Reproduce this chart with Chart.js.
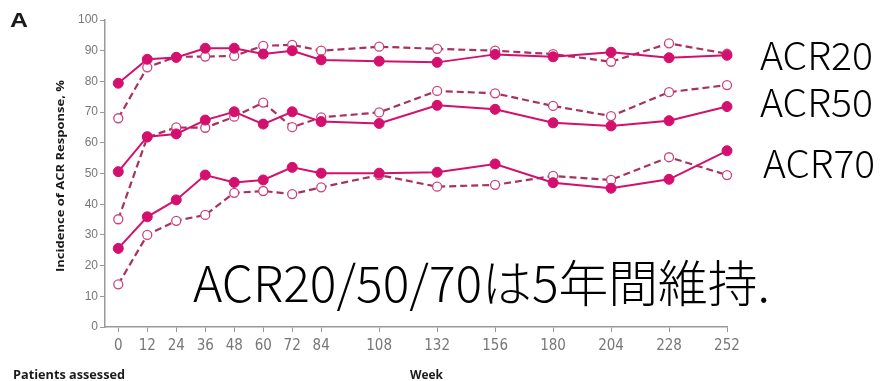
<!DOCTYPE html>
<html>
<head>
<meta charset="utf-8">
<script src="https://cdn.jsdelivr.net/npm/chart.js@4"></script>
<style>
  html, body { margin: 0; padding: 0; background: #fff; }
  #wrap { width: 881px; height: 381px; }
</style>
</head>
<body>
<div id="wrap"><canvas id="acrChart" width="881" height="381"></canvas></div>
<script>
// weeks on study and response rates (%)
const weeks = [0, 12, 24, 36, 48, 60, 72, 84, 108, 132, 156, 180, 204, 228, 252];
const acr20Solid = [79.4, 87.2, 87.8, 90.8, 90.8, 88.9, 90.0, 87.0, 86.6, 86.2, 88.8, 88.0, 89.5, 87.7, 88.5];
const acr20Open = [68.0, 84.6, 88.0, 88.1, 88.3, 91.6, 91.9, 90.0, 91.3, 90.6, 90.0, 88.9, 86.4, 92.4, 89.0];
const acr50Solid = [50.6, 62.0, 62.9, 67.4, 70.1, 66.1, 70.1, 66.9, 66.3, 72.2, 70.9, 66.5, 65.5, 67.2, 71.8];
const acr50Open = [35.1, 61.8, 65.0, 64.9, 68.5, 73.1, 65.1, 68.3, 69.9, 76.9, 76.1, 72.0, 68.7, 76.5, 78.8];
const acr70Solid = [25.6, 35.9, 41.4, 49.5, 47.1, 47.9, 52.0, 50.1, 50.1, 50.4, 53.1, 47.0, 45.2, 48.1, 57.4];
const acr70Open = [13.9, 30.0, 34.6, 36.5, 43.7, 44.3, 43.3, 45.5, 49.5, 45.7, 46.3, 49.2, 47.9, 55.3, 49.5];
const seriesLabels = ['ACR20', 'ACR50', 'ACR70'];
const yTicks = [0, 10, 20, 30, 40, 50, 60, 70, 80, 90, 100];

const solidColor = '#d4106e';
const dashColor = '#a8325f';

function toPoints(values) {
    return weeks.map((w, i) => ({ x: w, y: values[i] }));
}

function solidSet(label, values) {
    return {
        label: label,
        data: toPoints(values),
        borderColor: solidColor,
        borderWidth: 2,
        pointRadius: 5,
        pointBackgroundColor: solidColor,
        pointBorderColor: solidColor,
        pointBorderWidth: 1,
        clip: false
    };
}

function openSet(label, values) {
    return {
        label: label,
        data: toPoints(values),
        borderColor: dashColor,
        borderWidth: 2.2,
        borderDash: [7, 4],
        pointRadius: 4.5,
        pointBackgroundColor: '#fff',
        pointBorderColor: '#c9457f',
        pointBorderWidth: 1.3,
        clip: false
    };
}

// draws text squeezed or stretched horizontally to a given width
function fitText(ctx, text, x, y, width) {
    const w = ctx.measureText(text).width;
    ctx.save();
    ctx.translate(x, y);
    ctx.scale(width / w, 1);
    ctx.fillText(text, 0, 0);
    ctx.restore();
}

// labels, axis title and the note drawn on top of the plot
const overlayText = {
    id: 'overlayText',
    afterDraw(chart) {
        const ctx = chart.ctx;
        ctx.save();
        ctx.fillStyle = '#1a1a1a';
        ctx.textAlign = 'left';
        ctx.textBaseline = 'alphabetic';

        ctx.font = 'bold 20px "Liberation Sans", Arial, sans-serif';
        fitText(ctx, 'A', 10, 27, 18);

        ctx.font = 'bold 12px "Open Sans", sans-serif';
        fitText(ctx, 'Patients assessed', 13, 379, 112);
        fitText(ctx, 'Week', 410, 379, 33);

        ctx.save();
        ctx.translate(64, 272);
        ctx.rotate(-Math.PI / 2);
        ctx.font = 'bold 11px "Open Sans", sans-serif';
        fitText(ctx, 'Incidence of ACR Response, %', 0, 0, 192);
        ctx.restore();

        ctx.fillStyle = '#000';
        ctx.font = '300 38px "Noto Sans CJK JP", sans-serif';
        fitText(ctx, seriesLabels[0], 760, 70, 113);
        fitText(ctx, seriesLabels[1], 760, 117, 113);
        fitText(ctx, seriesLabels[2], 763, 178, 112);

        ctx.font = '300 50px "Noto Sans CJK JP", sans-serif';
        fitText(ctx, 'ACR20/50/70は5年間維持.', 193, 302, 577);
        ctx.restore();
    }
};

new Chart(document.getElementById('acrChart'), {
    type: 'line',
    data: {
        datasets: [
            solidSet('ACR20', acr20Solid),
            solidSet('ACR50', acr50Solid),
            solidSet('ACR70', acr70Solid),
            openSet('ACR20 open', acr20Open),
            openSet('ACR50 open', acr50Open),
            openSet('ACR70 open', acr70Open)
        ]
    },
    options: {
        responsive: false,
        animation: false,
        layout: { padding: { left: 0, right: 154, top: 20, bottom: 0 } },
        plugins: {
            legend: { display: false },
            tooltip: { enabled: false }
        },
        scales: {
            x: {
                type: 'linear',
                min: -5.5,
                max: 252,
                afterBuildTicks: scale => { scale.ticks = weeks.map(v => ({ value: v })); },
                afterFit: scale => { scale.height = 54; },
                grid: { drawOnChartArea: false, drawTicks: true, tickLength: 5, color: '#999' },
                border: { color: '#999', width: 1.5 },
                ticks: {
                    color: '#777',
                    padding: 5,
                    maxRotation: 0,
                    autoSkip: false,
                    font: { family: '"Liberation Sans Narrow", "DejaVu Sans Condensed", sans-serif', size: 15 }
                }
            },
            y: {
                min: 0,
                max: 100,
                afterBuildTicks: scale => { scale.ticks = yTicks.map(v => ({ value: v })); },
                afterFit: scale => { scale.width = 105; },
                grid: { drawOnChartArea: false, drawTicks: true, tickLength: 5, color: '#999' },
                border: { color: '#999', width: 1.5 },
                ticks: {
                    color: '#777',
                    padding: 2,
                    font: { family: '"Liberation Sans", Arial, sans-serif', size: 12 }
                }
            }
        }
    },
    plugins: [overlayText]
});
</script>
</body>
</html>
